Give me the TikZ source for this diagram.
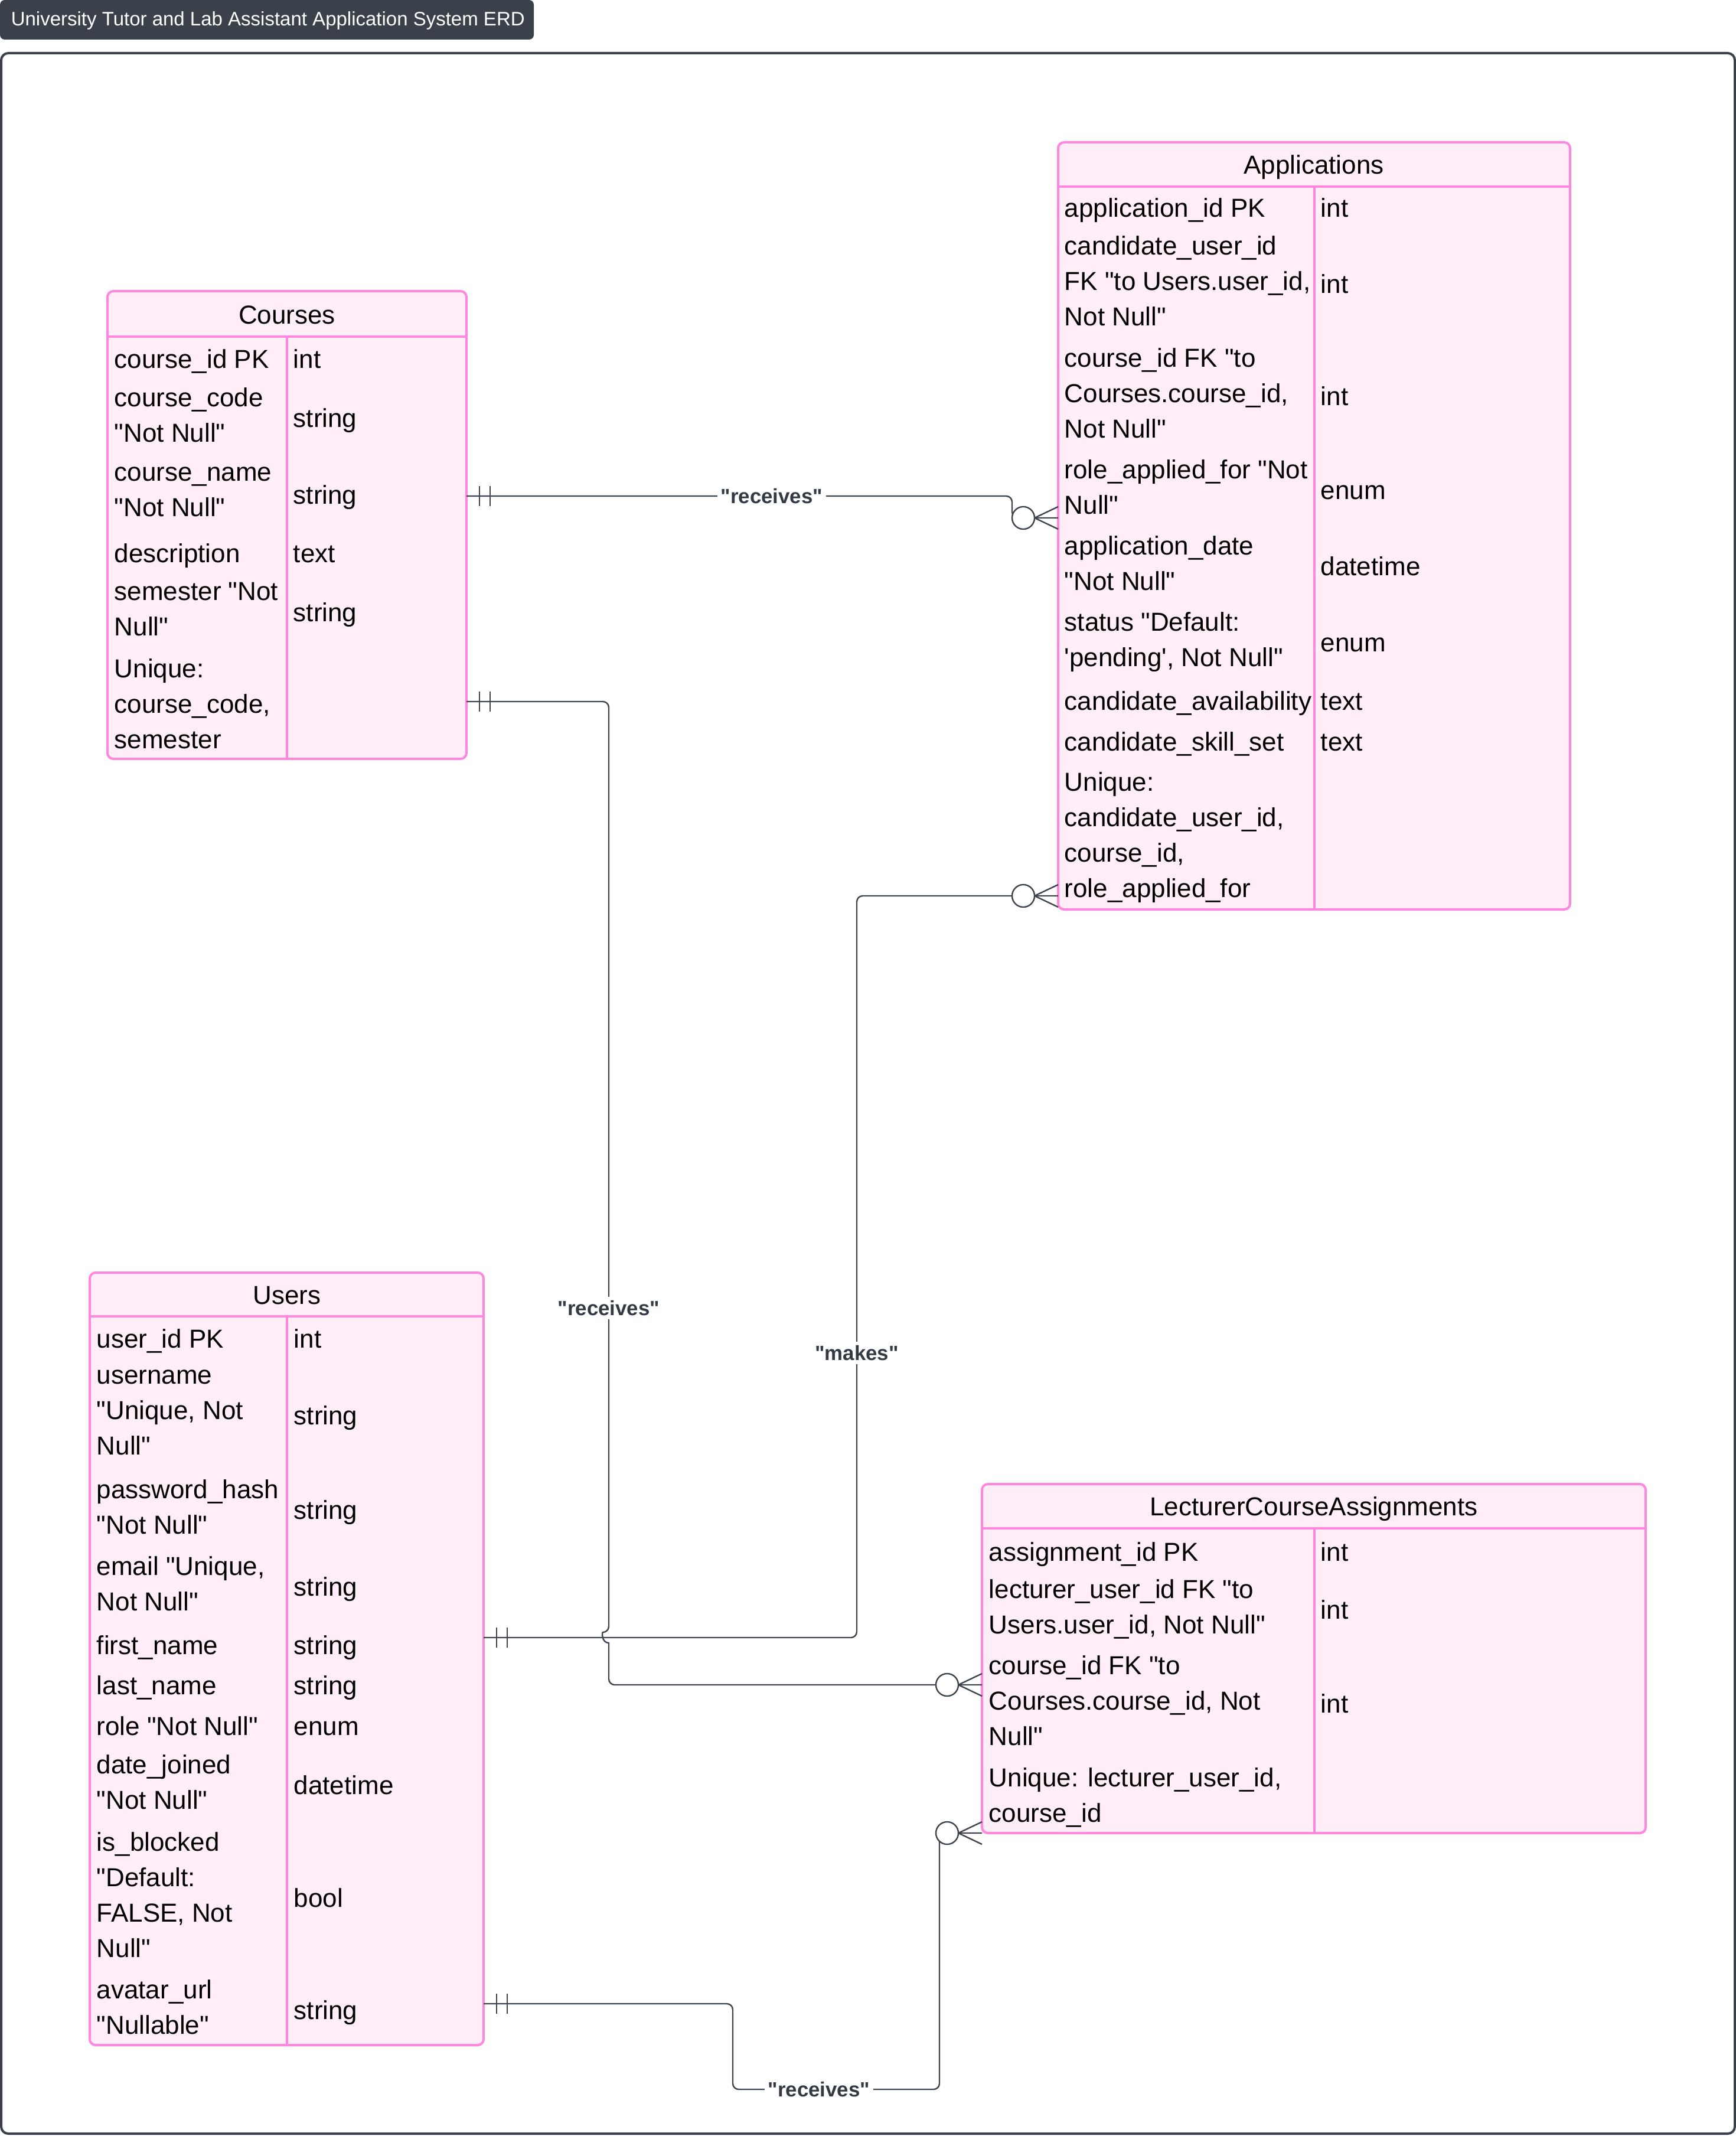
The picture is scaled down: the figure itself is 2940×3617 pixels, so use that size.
\documentclass[tikz,border=0pt]{standalone}
\usepackage{fontspec}
\setmainfont{Liberation Sans}[Ligatures=TeXOff]
\usetikzlibrary{calc,fit}
\definecolor{pinkline}{HTML}{FF87DE}
\definecolor{pinkfill}{HTML}{FFEEF8}
\definecolor{conncol}{HTML}{3E444E}
\definecolor{titlebg}{HTML}{3B414B}
\definecolor{labcol}{HTML}{333A44}
\tikzset{
  ent/.style={draw=pinkline, fill=pinkfill, line width=1pt, rounded corners=2.5pt, inner sep=0pt, outer sep=0pt},
  sepline/.style={draw=pinkline, line width=1pt},
  cell/.style={anchor=west, inner sep=0pt, align=left, yshift=-1.6pt, font=\fontsize{11}{15}\selectfont, execute at begin node=\strut, execute at end node=\strut},
  head/.style={anchor=center, inner sep=0pt, yshift=-1.2pt, font=\fontsize{11}{15}\selectfont, execute at begin node=\strut},
  conn/.style={draw=conncol, line width=0.6pt},
  rel/.style={fill=white, text=labcol, inner sep=1.5pt, font=\fontsize{8.7}{10}\selectfont\bfseries},
  framebox/.style={draw=titlebg, line width=1pt, rounded corners=3pt, inner sep=0pt, outer sep=0pt},
}
\newcommand\onemark[1]{%
  \draw[conn] ($(#1)+(22,-17)$) -- ($(#1)+(22,17)$);
  \draw[conn] ($(#1)+(40,-17)$) -- ($(#1)+(40,17)$);}
\newcommand\manymark[1]{%
  \draw[conn, fill=white] ($(#1)+(-59,0)$) circle[radius=19];
  \draw[conn] ($(#1)+(-40,0)$) -- ($(#1)+(0,-19)$);
  \draw[conn] ($(#1)+(-40,0)$) -- (#1);
  \draw[conn] ($(#1)+(-40,0)$) -- ($(#1)+(0,19)$);}
\begin{document}
\begin{tikzpicture}[x=0.25pt, y=-0.25pt]
\useasboundingbox (0,0) rectangle (2940,3617);

% title and frame
\node[fit={(0,0) (904,67)}, inner sep=0pt, fill=titlebg, rounded corners=2pt] (titlebox) {};
\node[anchor=west, inner sep=0pt, text=white, font=\fontsize{8.25}{10}\selectfont] (titletext) at (18,35) {University Tutor and Lab Assistant Application System ERD};
\node[framebox, fit={(2,90) (2938,3613)}] (frame) {};

% ---------- Courses ----------
\node[ent, fit={(182,493) (790,1285)}] (courses) {};
\draw[sepline] (courses.west |- 0,570) -- (courses.east |- 0,570);
\draw[sepline] (486,570) -- (courses.south -| 486,0);
\node[head] (coursesT) at (486,532) {Courses};
\node[cell] (co1n) at (193,605) {course\_id PK};
\node[cell] (co1t) at (496,605) {int};
\node[cell] (co2n) at (193,705) {course\_code\\"Not Null"};
\node[cell] (co2t) at (496,705) {string};
\node[cell] (co3n) at (193,835) {course\_name\\"Not Null"};
\node[cell] (co3t) at (496,835) {string};
\node[cell] (co4n) at (193,934) {description};
\node[cell] (co4t) at (496,934) {text};
\node[cell] (co5n) at (193,1034) {semester "Not\\Null"};
\node[cell] (co5t) at (496,1034) {string};
\node[cell] (co6n) at (193,1194) {Unique:\\course\_code,\\semester};

% ---------- Applications ----------
\node[ent, fit={(1792,241) (2659,1540)}] (apps) {};
\draw[sepline] (apps.west |- 0,316) -- (apps.east |- 0,316);
\draw[sepline] (2226,316) -- (apps.south -| 2226,0);
\node[head] (appsT) at (2225,278) {Applications};
\node[cell] (ap1n) at (1802,349) {application\_id PK};
\node[cell] (ap1t) at (2236,349) {int};
\node[cell] (ap2n) at (1802,478) {candidate\_user\_id\\FK "to Users.user\_id,\\Not Null"};
\node[cell] (ap2t) at (2236,478) {int};
\node[cell] (ap3n) at (1802,668) {course\_id FK "to\\Courses.course\_id,\\Not Null"};
\node[cell] (ap3t) at (2236,668) {int};
\node[cell] (ap4n) at (1802,827) {role\_applied\_for "Not\\Null"};
\node[cell] (ap4t) at (2236,827) {enum};
\node[cell] (ap5n) at (1802,956) {application\_date\\"Not Null"};
\node[cell] (ap5t) at (2236,956) {datetime};
\node[cell] (ap6n) at (1802,1085) {status "Default:\\'pending', Not Null"};
\node[cell] (ap6t) at (2236,1085) {enum};
\node[cell] (ap7n) at (1802,1184) {candidate\_availability};
\node[cell] (ap7t) at (2236,1184) {text};
\node[cell] (ap8n) at (1802,1253) {candidate\_skill\_set};
\node[cell] (ap8t) at (2236,1253) {text};
\node[cell] (ap9n) at (1802,1416) {Unique:\\candidate\_user\_id,\\course\_id,\\role\_applied\_for};

% ---------- Users ----------
\node[ent, fit={(152,2155) (819,3463)}] (users) {};
\draw[sepline] (users.west |- 0,2229) -- (users.east |- 0,2229);
\draw[sepline] (486,2229) -- (users.south -| 486,0);
\node[head] (usersT) at (486,2192) {Users};
\node[cell] (us1n) at (163,2264) {user\_id PK};
\node[cell] (us1t) at (497,2264) {int};
\node[cell] (us2n) at (163,2394) {username\\"Unique, Not\\Null"};
\node[cell] (us2t) at (497,2394) {string};
\node[cell] (us3n) at (163,2554) {password\_hash\\"Not Null"};
\node[cell] (us3t) at (497,2554) {string};
\node[cell] (us4n) at (163,2684) {email "Unique,\\Not Null"};
\node[cell] (us4t) at (497,2684) {string};
\node[cell] (us5n) at (163,2783) {first\_name};
\node[cell] (us5t) at (497,2783) {string};
\node[cell] (us6n) at (163,2851) {last\_name};
\node[cell] (us6t) at (497,2851) {string};
\node[cell] (us7n) at (163,2920) {role "Not Null"};
\node[cell] (us7t) at (497,2920) {enum};
\node[cell] (us8n) at (163,3020) {date\_joined\\"Not Null"};
\node[cell] (us8t) at (497,3020) {datetime};
\node[cell] (us9n) at (163,3211) {is\_blocked\\"Default:\\FALSE, Not\\Null"};
\node[cell] (us9t) at (497,3211) {bool};
\node[cell] (us10n) at (163,3401) {avatar\_url\\"Nullable"};
\node[cell] (us10t) at (497,3401) {string};

% ---------- LecturerCourseAssignments ----------
\node[ent, fit={(1663,2513) (2787,3104)}] (lca) {};
\draw[sepline] (lca.west |- 0,2588) -- (lca.east |- 0,2588);
\draw[sepline] (2226,2588) -- (lca.south -| 2226,0);
\node[head] (lcaT) at (2225,2550) {LecturerCourseAssignments};
\node[cell] (la1n) at (1674,2625) {assignment\_id PK};
\node[cell] (la1t) at (2236,2625) {int};
\node[cell] (la2n) at (1674,2723) {lecturer\_user\_id FK "to\\Users.user\_id, Not Null"};
\node[cell] (la2t) at (2236,2723) {int};
\node[cell] (la3n) at (1674,2882) {course\_id FK "to\\Courses.course\_id, Not\\Null"};
\node[cell] (la3t) at (2236,2882) {int};
\node[cell] (la4n) at (1674,3042) {Unique: lecturer\_user\_id,\\course\_id};

% ---------- connector end points ----------
\coordinate (c1s) at (courses.east |- 0,840);
\coordinate (c1e) at (apps.west |- 0,877);
\coordinate (c2s) at (courses.east |- 0,1188);
\coordinate (c2e) at (lca.west |- 0,2853);
\coordinate (c3s) at (users.east |- 0,2773);
\coordinate (c3e) at (apps.west |- 0,1517);
\coordinate (c4s) at (users.east |- 0,3393);

% ---------- connectors ----------
\draw[conn, rounded corners=2.5pt] (c1s) -- (1714,840) -- (1714,877) -- (c1e);
\draw[conn, rounded corners=2.5pt] (c3s) -- (1451,2773) -- (1451,1517) -- (c3e);
\draw[conn, rounded corners=2.5pt] (c2s) -- (1031,1188) -- (1031,2764) [sharp corners]
  .. controls (1019,2764) and (1019,2782) .. (1031,2782) [rounded corners=2.5pt]
  -- (1031,2853) -- (c2e);
\draw[conn, rounded corners=2.5pt] (c4s) -- (1241,3393) -- (1241,3538) -- (1591,3538) -- (1591,3104) -- (lca.south west);

% labels
\node[rel] (l1) at (1307,840) {"receives"};
\node[rel] (l2) at (1031,2215) {"receives"};
\node[rel] (l3) at (1451,2291) {"makes"};
\node[rel] (l4) at (1387,3538) {"receives"};

% markers
\onemark{c1s}
\onemark{c2s}
\onemark{c3s}
\onemark{c4s}
\manymark{c1e}
\manymark{c2e}
\manymark{c3e}
\manymark{lca.south west}
\end{tikzpicture}
\end{document}
